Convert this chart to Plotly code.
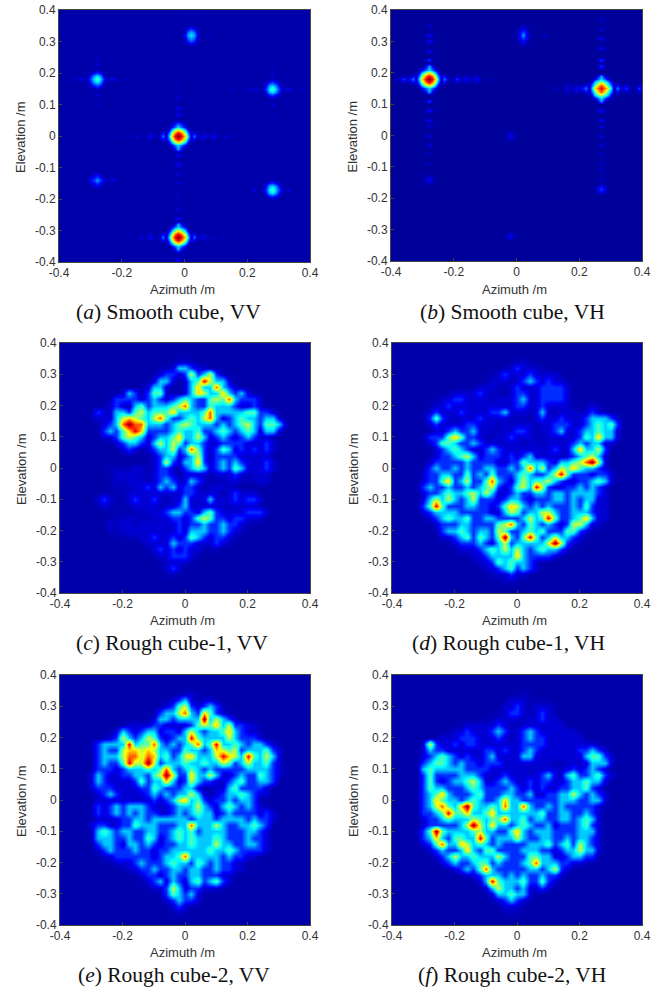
import plotly.graph_objects as go

# Tick labels and captions
azimuth_ticks = [-0.4, -0.2, 0, 0.2, 0.4]
azimuth_labels = ["-0.4", "-0.2", "0", "0.2", "0.4"]
elevation_ticks = [-0.4, -0.3, -0.2, -0.1, 0, 0.1, 0.2, 0.3, 0.4]
elevation_labels = ["-0.4", "-0.3", "-0.2", "-0.1", "0", "0.1", "0.2", "0.3", "0.4"]
captions = ["(<i>a</i>) Smooth cube, VV", "(<i>b</i>) Smooth cube, VH",
            "(<i>c</i>) Rough cube-1, VV", "(<i>d</i>) Rough cube-1, VH",
            "(<i>e</i>) Rough cube-2, VV", "(<i>f</i>) Rough cube-2, VH"]

# Cell values. Each entry: "row col:values col:values".
# Row 0 is the top (elevation 0.4), col 0 the left (azimuth -0.4).
panel_a_rows = [
 "2 41:aba","5 41:aba","6 40:b1d1b","7 39:ab2e2ba","8 34:aba 39:a1e3e1a 47:aba","9 39:ab2e2ba","10 40:b1d1b","11 41:aba","13 41:aba",
 "15 11:aba","17 11:aca","19 11:aba","20 10:b1d1b","21 9:a1e3e1a","22 3:aba 6:bcb 9:bd343db 16:b1b 20:aba","23 9:a1e3e1a 37:aba","24 10:b1d1b","25 11:aba 37:aba","27 11:aca","30 11:aba",
 "18 67:aba","20 67:aca","22 67:aba","23 66:b1d1b","24 65:a1e3e1a","25 54:aba 58:aba 61:bcb 65:bd343db 72:b1b 76:aba","26 65:a1e3e1a","27 66:b1d1b","28 67:aba 37:aca","30 67:aca","33 67:aba",
 "31 37:b1b","33 37:b1b","36 37:1d1","37 35:a12321a","38 34:a1356531a",
 "39 28:aba 32:a1 34:b2578752b 43:1a 45:aba 48:aba",
 "40 18:aba 21:aba 24:aca 28:b1b 32:b2 34:a3689863a 43:2b 45:b1b 48:b1b 52:aca 55:aba 59:aba",
 "41 28:aba 32:a1 34:b2578752b 43:1a 45:aba 48:aba","42 34:a1356531a","43 35:a12321a","44 37:1e1","46 37:b1b","49 37:b1b","52 37:aca","55 37:aca","58 37:aba","60 37:aba","63 37:aca","66 37:b1b","68 37:1e1",
 "52 11:bcb","53 10:b1d1b","54 4:aba 10:1ded1 16:bcb","55 10:b1d1b","56 11:bcb",
 "54 67:aba","55 66:b1d1b","56 65:a1e3e1a","57 61:aca 65:bd343db 72:aca","58 65:a1e3e1a","59 66:b1d1b","60 67:aba",
 "69 35:a12321a","70 34:a1356531a","71 28:aba 32:a1 34:b2578752b 43:1a 45:aba",
 "72 22:aba 25:aca 28:b1b 32:b2 34:a3689863a 43:2b 45:b1b 48:aca 51:aba 55:aba 59:aba",
 "73 28:aba 32:a1 34:b2578752b 43:1a 45:aba","74 34:a1356531a","75 35:a12321a","76 37:1e1","79 37:b1b",
]
panel_b_rows = [
 "5 41:aba","6 40:ab1ba","7 40:a1d1a","8 39:ab1e1ba 48:aba","9 40:a1d1a","10 40:ab1ba","11 41:aba",
 "5 11:aca","8 11:b1b","10 11:b1b","13 11:b1b","16 11:bdb","18 11:1e1",
 "19 9:a12321a","20 8:a1356531a",
 "21 3:aba 6:a1 8:b2578752b 17:1a 20:aba 23:aba 26:aba",
 "22 1:aba 3:bdb 6:12 8:a3689863a 17:21 20:bdb 23:b1b 26:b1b 30:aba",
 "23 3:aba 6:a1 8:b2578752b 17:1a 20:aba 23:aba 26:aba",
 "24 8:a1356531a","25 9:a12321a","26 11:1e1","29 11:bdb","32 11:b1b","35 11:b1b","37 11:aca","40 11:aca","43 11:aca","46 11:aba","49 11:aba","53 11:aba","54 10:ab1ba","55 11:aba",
 "3 66:aba","6 66:aca","9 66:b1b","12 66:b1b","16 66:bdb","18 66:bdb","21 66:1e1",
 "22 64:a12321a","23 63:a1345431a",
 "24 55:aba 58:aba 61:a1 63:a2467642a 72:1a 74:aba 78:aba",
 "25 51:aba 55:aca 58:b1b 61:12 63:a3678763a 72:21 74:bdb 78:bdb",
 "26 55:aba 58:aba 61:a1 63:a2467642a 72:1a 74:aba 78:aba",
 "27 63:a1345431a","28 64:a12321a","29 66:1e1","32 66:b1b","35 66:b1b","37 66:aca","40 66:aca","43 66:aca","46 66:aba","49 66:aba","51 66:aba","54 66:aba","56 65:ab1ba","57 65:a1d1a","58 65:ab1ba",
 "39 37:aba","40 36:abcba","41 37:aba","71 37:aba","72 36:ab1ba","73 37:aba",
]
panel_c_rows = [
 "2 19:aa","3 18:ab1ba","4 16:ab133211a","5 15:a1221252352a","6 14:a1331a13485331","7 13:a1331.a136337321",
 "8 10:132a2441aa" "13653363" "231a",
 "9 8:a222212321" "2343224547" "32221",
 "10 7:a121a34233" "3457322433" "321121",
 "11 5:a211332453" "4446333347" "3333344221",
 "12 5:a111356543" "5742234357" "31234332331",
 "13 6:a123797733" "3234543332" "32345324431",
 "14 6:a232468622" "2234334223" "4323431331",
 "15 7:1124543123" "3463353123" "2123211",
 "16 9:1233213535" "4233211222" "211121",
 "17 10:121a123352" "3742124312" "12121",
 "18 15:123312352a" "222211111",
 "19 14:a125213362" "12323211121",
 "20 7:aabab11a12" "21a2343123" "24311121",
 "21 8:a1111bb122" "1a1111a111" "21b111",
 "22 8:a1b111b123" "211321abb1" "1bab11",
 "23 9:bbb1121323" "1221a111bb",
 "24 7:aaaa111111" "111221111a" "12111",
 "25 6:121aa12112" "1a11311131" "1121221",
 "26 6:a1baab1111" "b112311111" "1b1111b",
 "27 9:aaabb11123" "3221342111" "12221",
 "28 8:abb1bbb111" "2212454221" "22111",
 "29 7:a1b11b1111" "1121223223" "221b",
 "30 8:ba11111111" "1213332232" "1b",
 "31 9:aabb112112" "124321221b",
 "32 13:a111132221" "1121b",
 "33 14:a12121211a" "ab",
 "34 15:a112221a","35 16:ab111a","36 17:121","37 17:aba",
]
panel_d_rows = [
 "3 19:ab1a","4 18:a12111a","5 16:a1211121111a","6 15:a111b12321211a","7 13:a111ba1211122221",
 "8 9:a111121bba1221122221",
 "9 7:a11221111b" "1112311222" "21a",
 "10 6:a112111111" "1111221121" "111a 31:b1b",
 "11 6:1211121111" "223111b131" "b111b121b",
 "12 6:2421b11121" "111bbba121" "12111233321",
 "13 6:1211112211" "1b1b111b11" "22211234342a",
 "14 7:112322311b" "b11221b112" "3112334331",
 "15 5:a222464221" "bb112111bb" "111112436331",
 "16 6:1244322321" "1b111b11b1" "1112323311",
 "17 7:1234321123" "2111111112" "11363352",
 "18 6:a122345312" "2212123111" "1b1234531",
 "19 6:1222223222" "2112243332" "133457951",
 "20 5:a232232322" "3322323735" "2354643321",
 "21 5:1223322423" "2422234322" "35842221221",
 "22 5:1224623522" "4732135344" "53211223431",
 "23 4:a232232232" "3452124538" "52112232321",
 "24 5:1223433453" "5311232233" "2332333321",
 "25 5:1353532352" "2212332122" "2332323311",
 "26 5:2484222332" "2124653232" "3222324211",
 "27 5:1233332222" "2113542335" "5322333211",
 "28 6:1234334223" "3222235348" "422346311",
 "29 7:1222332222" "4573243232" "1255311",
 "30 7:a233432332" "5422343422" "24421a",
 "31 8:1123424324" "9324842353" "321a",
 "32 9:a122232135" "23333359521a",
 "33 10:a111234353" "532343321a",
 "34 12:a112333363" "22221a",
 "35 13:a1124343321a","36 14:a112342321","37 15:ab11211a","38 17:abba",
]
panel_e_rows = [
 "3 19:ab1a","4 17:a1231a11a","5 16:a124521232a","6 15:a23357326421a","7 14:a13323333935321",
 "8 10:a111122111" "1245463522" "11a",
 "9 8:a132123312" "2135323346" "3211a",
 "10 7:a125323542" "1233843333" "532221",
 "11 5:a233338344" "7323234734" "8334323321",
 "12 5:a232256656" "5332243323" "65452333421",
 "13 6:2333577576" "3423563335" "8653843531",
 "14 6:2322485595" "2333433433" "5423533421",
 "15 6:2221233343" "4732343232" "2222333321a",
 "16 5:1321122332" "4595226335" "31123224321",
 "17 5:1321111242" "3363125322" "1123422332",
 "18 5:1222111122" "43222331aa" "113422221",
 "19 6:1232111123" "23233531b1" "23343211",
 "20 6:1111111112" "1235634212" "232332a",
 "21 5:a212323332" "1112333532" "13432321a",
 "22 5:a212323232" "2112323433" "1232222121",
 "23 6:1111223323" "3333323332" "333323221",
 "24 5:1221122433" "3222337333" "532233432",
 "25 6:3432332233" "2234342333" "32223321",
 "26 6:3332232243" "1234343334" "32223221",
 "27 6:2332133232" "1223343335" "33223321",
 "28 6:1232223221" "2233333343" "34322221",
 "29 7:1122222212" "3347333332" "32211",
 "30 8:a111232223" "433243232211",
 "31 10:a112232233" "2332232211",
 "32 12:a122123223" "322211a",
 "33 13:a123132134" "23421",
 "34 14:a11253122111a","35 16:a243231a","36 17:123221","37 18:121a","38 18:aba",
]
panel_f_rows = [
 "3 20:aba","4 18:a111aaaa","5 18:1121a111a","6 16:aa1221b121a","7 15:ab1111b11211a",
 "8 11:a1111121ba" "1111111a",
 "9 9:a112111232" "b1232111111a",
 "10 7:a111222111" "21b1232211" "1111a",
 "11 5:1521121221" "1111112222" "11111111a",
 "12 5:1322111111" "2212112321" "1111122321",
 "13 5:1234321211" "2311113311" "11111134421",
 "14 5:2344323221" "2221111111" "1aa11113331",
 "15 5:3433333222" "2111111b11" "1111212321",
 "16 5:2422223332" "1112111112" "31134223421",
 "17 5:2421233453" "1123211212" "2112334331",
 "18 5:2433222343" "2222321212" "112233421",
 "19 5:2346322234" "2223322311" "2233532321",
 "20 5:2364332343" "2236332222" "2233322331",
 "21 5:2357436943" "3437337322" "323222221a",
 "22 5:2234844633" "4633333334" "223322321",
 "23 5:1223433354" "3447334233" "223323431",
 "24 5:1222223595" "3633234322" "312223421",
 "25 4:a249433334" "5332246323" "3322223331",
 "26 5:2363244338" "4233353223" "322323321",
 "27 5:1247336534" "3232222333" "423425321",
 "28 6:1232236324" "4222233322" "12335331",
 "29 7:1235334333" "5322244331" "123322a",
 "30 8:1232234423" "2223473332" "211a",
 "31 9:a123247322" "2223323521a",
 "32 11:a112333232" "3223221",
 "33 13:a138433342" "2421",
 "34 14:a13533231121","35 15:a1334331a","36 16:a12321a","37 17:a111a","38 18:aba",
]

jet = [[0, "rgb(0,0,143)"], [0.111, "rgb(0,0,255)"], [0.365, "rgb(0,255,255)"],
       [0.619, "rgb(255,255,0)"], [0.873, "rgb(255,0,0)"], [1, "rgb(128,0,0)"]]
# Meaning of the letters/digits in the cell strings, on the 0-9 colour range
fine_levels = {"a": .25, "b": .5, "c": .75, "d": 1.5, "e": 2.5, "0": 0, "1": 1, "2": 2, "3": 3,
               "4": 4, "5": 5, "6": 6, "7": 7, "8": 8, "9": 9}
rough_levels = {"a": .32, "b": .42, "1": .6, "2": 1.4, "3": 2.8,
                "4": 4, "5": 5, "6": 6, "7": 7, "8": 8, "9": 9}


def build(rows, n, base, levels):
    z = [[base] * n for _ in range(n)]
    for row in rows:
        parts = row.split()
        j = int(parts[0])
        for seg in parts[1:]:
            col, vals = seg.split(":")
            for k, ch in enumerate(vals):
                c = int(col) + k
                if ch != "." and c < n:
                    z[j][c] = levels[ch]
    return z[::-1]


panels = [
    (panel_a_rows, 81, .25, fine_levels, (59, 310, 10, 262), 168, 312, 289),
    (panel_b_rows, 81, .1, fine_levels, (391, 642, 10, 261), 512, 312, 289),
    (panel_c_rows, 41, .25, rough_levels, (60, 310, 343, 593), 172, 643, 620),
    (panel_d_rows, 41, .25, rough_levels, (392, 642, 343, 593), 508, 643, 620),
    (panel_e_rows, 41, .25, rough_levels, (60, 310, 675, 925), 174, 975, 952),
    (panel_f_rows, 41, .25, rough_levels, (392, 642, 675, 925), 512, 975, 952),
]

W, H = 662, 988
SANS = "Liberation Sans"
TITLE = dict(family=SANS, size=13, color="#333")
fig = go.Figure()
AXIS = dict(range=[-0.4, 0.4], showgrid=False, zeroline=False, showline=True, mirror=True,
            automargin=False, linecolor="#444", linewidth=1, ticks="inside", ticklen=3,
            tickcolor="#444", tickfont=dict(family=SANS, size=12, color="#333"))
for idx, (rows, n, base, levels, box, cap_x, cap_y, az_y) in enumerate(panels):
    x0, x1, y0, y1 = box
    step = 0.8 / (n - 1)
    axes = [round(-0.4 + step * i, 4) for i in range(n)]
    name = "" if idx == 0 else str(idx + 1)
    fig.add_trace(go.Heatmap(z=build(rows, n, base, levels), x=axes, y=axes, zmin=0, zmax=9,
                             zsmooth="best", colorscale=jet, showscale=False,
                             xaxis="x" + name, yaxis="y" + name))
    fig.update_layout({
        "xaxis" + name: dict(AXIS, domain=[x0 / W, x1 / W], anchor="y" + name,
                             tickvals=azimuth_ticks, ticktext=azimuth_labels),
        "yaxis" + name: dict(AXIS, domain=[1 - y1 / H, 1 - y0 / H], anchor="x" + name,
                             tickvals=elevation_ticks, ticktext=elevation_labels),
    })
    fig.add_annotation(text="Azimuth /m", xref="paper", yref="paper", showarrow=False,
                       x=((x0 + x1) / 2 - 2.5) / W, y=1 - az_y / H, xanchor="center", yanchor="middle",
                       font=TITLE)
    fig.add_annotation(text="Elevation /m", xref="paper", yref="paper", showarrow=False, textangle=-90,
                       x=(x0 - 39) / W, y=1 - ((y0 + y1) / 2 + 1) / H, xanchor="center", yanchor="middle",
                       font=TITLE)
    fig.add_annotation(text=captions[idx], xref="paper", yref="paper", showarrow=False,
                       x=cap_x / W, y=1 - cap_y / H, xanchor="center", yanchor="middle",
                       font=dict(family="Liberation Serif", size=21.5, color="#111"))

fig.update_layout(width=W, height=H, margin=dict(l=0, r=0, t=0, b=0),
                  paper_bgcolor="white", plot_bgcolor="white", showlegend=False)
fig.write_html("out.html", config={"displayModeBar": False}, post_script="document.body.style.margin='0';")
